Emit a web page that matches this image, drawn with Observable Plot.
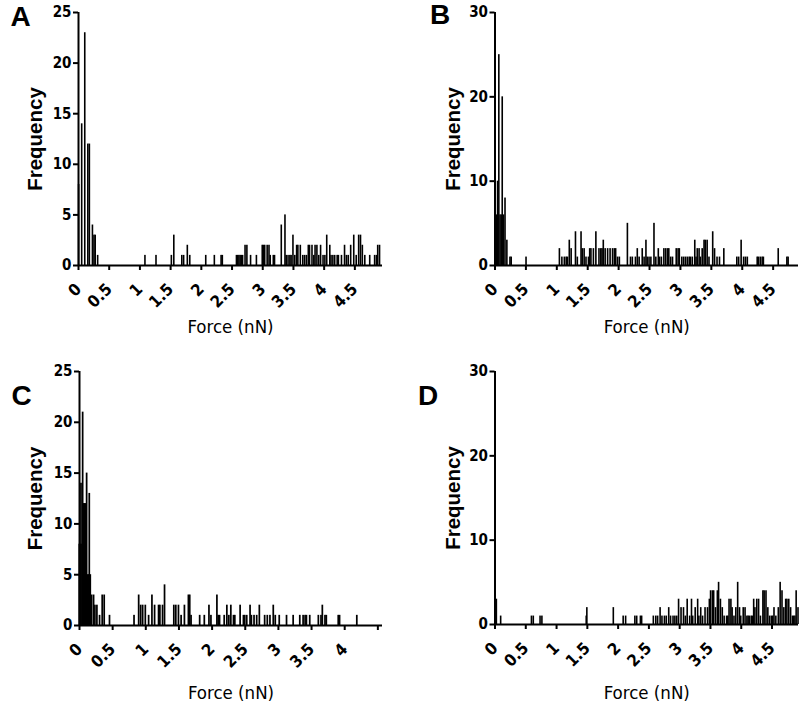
<!DOCTYPE html>
<html><head><meta charset="utf-8">
<script src="https://cdn.jsdelivr.net/npm/d3@7"></script>
<script src="https://cdn.jsdelivr.net/npm/@observablehq/plot@0.6"></script>
<style>
body{margin:0;background:#fff;}
#wrap{position:relative;width:800px;height:706px;overflow:hidden;}
#wrap > svg{position:absolute;}
</style></head><body><div id="wrap"></div>
<script>
// ---- data (force in nN, frequency count) ----
const forceA = [0.01,0.06,0.11,0.16,0.185,0.235,0.26,0.28,0.32,1.09,1.27,1.52,1.56,1.69,1.72,1.78,1.82,2.08,2.22,2.33,2.35,2.58,2.60,2.62,2.64,2.66,2.68,2.72,2.75,2.81,2.905,3.0,3.02,3.04,3.08,3.11,3.13,3.18,3.2,3.31,3.37,3.39,3.42,3.45,3.47,3.5,3.53,3.56,3.58,3.62,3.66,3.69,3.72,3.75,3.77,3.81,3.84,3.86,3.89,3.92,3.95,3.99,4.02,4.05,4.1,4.12,4.15,4.18,4.22,4.24,4.29,4.34,4.37,4.4,4.44,4.49,4.53,4.57,4.6,4.63,4.67,4.75,4.83,4.86,4.88,4.91];
const countA = [8,14,23,12,12,4,3,3,1,1,1,1,3,1,1,2,1,1,1,1,1,1,1,1,1,1,1,2,2,1,1,2,2,2,2,2,1,1,1,4,5,1,1,1,1,3,1,2,2,2,1,1,1,2,2,2,1,2,2,1,2,1,1,3,2,1,1,1,1,1,1,2,1,1,2,3,1,3,3,2,1,1,1,1,2,2];

const forceB = [0.01,0.03,0.05,0.07,0.09,0.11,0.125,0.145,0.17,0.2,0.25,0.27,0.51,1.05,1.09,1.13,1.16,1.18,1.21,1.24,1.31,1.34,1.40,1.42,1.45,1.48,1.52,1.54,1.56,1.6,1.64,1.69,1.72,1.74,1.76,1.79,1.83,1.87,1.91,1.94,1.96,1.99,2.02,2.15,2.2,2.23,2.28,2.31,2.34,2.39,2.42,2.45,2.47,2.5,2.53,2.58,2.61,2.65,2.67,2.7,2.74,2.77,2.8,2.82,2.85,2.88,2.94,2.97,2.99,3.03,3.06,3.09,3.12,3.15,3.17,3.2,3.24,3.26,3.28,3.31,3.33,3.36,3.39,3.41,3.44,3.47,3.53,3.56,3.6,3.64,3.71,3.92,3.95,3.99,4.03,4.06,4.09,4.25,4.27,4.3,4.33,4.35,4.59,4.73,4.75];
const countB = [6,6,10,25,6,6,20,6,8,3,1,1,1,2,1,1,1,1,3,2,4,1,4,2,2,1,1,2,2,2,4,2,2,2,3,2,2,2,2,2,2,1,1,5,1,1,1,2,1,2,1,3,1,1,1,5,1,2,1,1,2,2,2,2,1,1,2,2,2,1,1,1,1,1,1,1,3,1,2,2,1,2,3,3,3,1,4,2,1,1,2,1,1,3,1,1,1,1,1,1,1,1,2,1,1];

const forceC = [0.005,0.015,0.03,0.045,0.055,0.065,0.08,0.095,0.115,0.13,0.145,0.155,0.17,0.19,0.22,0.24,0.27,0.31,0.35,0.38,0.46,0.83,0.9,0.93,0.96,1.0,1.05,1.1,1.14,1.2,1.22,1.26,1.29,1.43,1.46,1.5,1.54,1.59,1.65,1.67,1.69,1.82,1.89,1.96,1.99,2.08,2.1,2.12,2.19,2.23,2.26,2.29,2.33,2.35,2.43,2.48,2.5,2.53,2.58,2.6,2.64,2.68,2.72,2.8,2.84,2.88,2.93,2.96,3.02,3.13,3.23,3.33,3.38,3.41,3.43,3.48,3.61,3.65,3.67,3.71,3.73,3.91,3.93,4.19];
const countC = [8,8,14,8,21,12,12,12,15,5,5,13,5,3,3,2,2,1,3,3,1,1,3,2,2,2,1,3,2,2,2,2,4,2,2,2,1,2,3,3,1,1,1,2,1,3,1,1,1,2,1,2,1,1,2,1,1,1,2,1,1,1,2,1,1,1,2,1,1,1,1,1,1,1,1,1,1,1,2,1,1,1,1,1];

const forceD = [0.03,0.1,0.6,0.63,0.74,0.77,1.49,1.5,1.93,2.09,2.13,2.28,2.31,2.37,2.39,2.58,2.62,2.65,2.69,2.72,2.76,2.79,2.83,2.86,2.9,2.93,2.96,2.99,3.03,3.07,3.1,3.13,3.17,3.2,3.22,3.26,3.3,3.32,3.35,3.38,3.42,3.46,3.49,3.51,3.54,3.56,3.59,3.62,3.64,3.67,3.7,3.73,3.77,3.79,3.81,3.84,3.86,3.89,3.92,3.95,3.98,4.0,4.04,4.07,4.1,4.12,4.14,4.17,4.19,4.21,4.23,4.26,4.29,4.32,4.36,4.38,4.41,4.44,4.47,4.5,4.52,4.54,4.57,4.61,4.64,4.67,4.7,4.73,4.75,4.78,4.81,4.84,4.86,4.88,4.9,4.93];
const countD = [3,1,1,1,1,1,1,2,2,1,1,1,1,1,1,1,1,1,2,1,1,1,2,1,1,1,1,3,2,2,1,3,1,3,1,2,3,1,2,1,2,2,3,4,4,4,2,4,5,3,2,1,1,1,3,3,2,1,2,5,2,1,2,2,1,1,1,1,1,3,2,3,3,1,4,4,4,2,1,1,1,2,1,2,5,4,2,3,3,3,2,1,1,1,4,2];

const xTicks = [0,0.5,1,1.5,2,2.5,3,3.5,4,4.5];
const yTicks25 = [0,5,10,15,20,25];
const yTicks30 = [0,10,20,30];
const letters = ["A","B","C","D"];
const xLabel = "Force (nN)";
const yLabel = "Frequency";

const narrow = "'Liberation Sans Narrow','DejaVu Sans Condensed','DejaVu Sans',sans-serif";
const sans = "'Liberation Sans',Arial,sans-serif";
const binHalf = 0.013;

function panel(o) {
  const data = o.forces.map((f, i) => ({f, c: o.counts[i]}));
  const svg = Plot.plot({
    width: 400, height: o.height,
    marginLeft: o.mL, marginRight: o.mR, marginTop: o.mT, marginBottom: o.mB,
    style: {fontFamily: narrow, fontStretch: "condensed", fontWeight: "bold", fontSize: "15px", color: "black", background: "transparent", overflow: "visible"},
    x: {domain: [0, o.xMax]},
    y: {domain: [0, o.yMax]},
    marks: [
      Plot.rectY(data, {x1: d => d.f - binHalf, x2: d => d.f + binHalf, y: "c", fill: "black"}),
      Plot.ruleY([0], {strokeWidth: 2}),
      Plot.ruleX([0], {strokeWidth: 2}),
      Plot.axisX({ticks: xTicks, tickSize: 5, strokeWidth: 2, tickRotate: -45, tickPadding: 16, fontSize: 16.5, fontWeight: "bold",
        tickFormat: d => (o.hide && o.hide.includes(d)) ? "" : String(d), label: null}),
      Plot.axisY({ticks: o.yTicks, tickSize: 5, strokeWidth: 2, tickPadding: 2, fontSize: 15, fontWeight: "bold", label: null}),
      Plot.text([yLabel], {text: d => d, frameAnchor: "left", textAnchor: "middle", rotate: -90, dx: o.yLabDx, fontSize: 20.5, fontWeight: "bold", fontFamily: sans}),
      Plot.text([xLabel], {text: d => d, frameAnchor: "bottom", textAnchor: "middle", dy: o.xLabDy, lineAnchor: "middle", fontSize: 18.5, fontWeight: "normal", fontFamily: narrow}),
      Plot.text([o.letter], {text: d => d, frameAnchor: "top-left", dx: o.lDx, dy: o.lDy, textAnchor: "middle", lineAnchor: "middle", fontSize: 28, fontWeight: "bold", fontFamily: sans})
    ]
  });
  svg.style.left = o.left + "px";
  svg.style.top = o.top + "px";
  document.getElementById("wrap").appendChild(svg);
}

panel({forces: forceA, counts: countA, letter: letters[0], xMax: 4.95, yMax: 25, yTicks: yTicks25,
  left: 0, top: 0, height: 350, mL: 78, mR: 18, mT: 12, mB: 85, yLabDx: -43, xLabDy: 62, lDx: -58, lDy: 5});
panel({forces: forceB, counts: countB, letter: letters[1], xMax: 4.91, yMax: 30, yTicks: yTicks30,
  left: 400, top: 0, height: 350, mL: 94.5, mR: 2, mT: 12, mB: 85, yLabDx: -42, xLabDy: 62, lDx: -55, lDy: 3});
panel({forces: forceC, counts: countC, letter: letters[2], xMax: 4.57, yMax: 25, yTicks: yTicks25, hide: [4.5],
  left: 0, top: 353, height: 353, mL: 79, mR: 18, mT: 18, mB: 81, yLabDx: -44, xLabDy: 68, lDx: -58, lDy: 25});
panel({forces: forceD, counts: countD, letter: letters[3], xMax: 4.93, yMax: 30, yTicks: yTicks30,
  left: 400, top: 353, height: 353, mL: 94.5, mR: 2, mT: 18, mB: 82, yLabDx: -42, xLabDy: 69, lDx: -67, lDy: 25});
</script></body></html>
